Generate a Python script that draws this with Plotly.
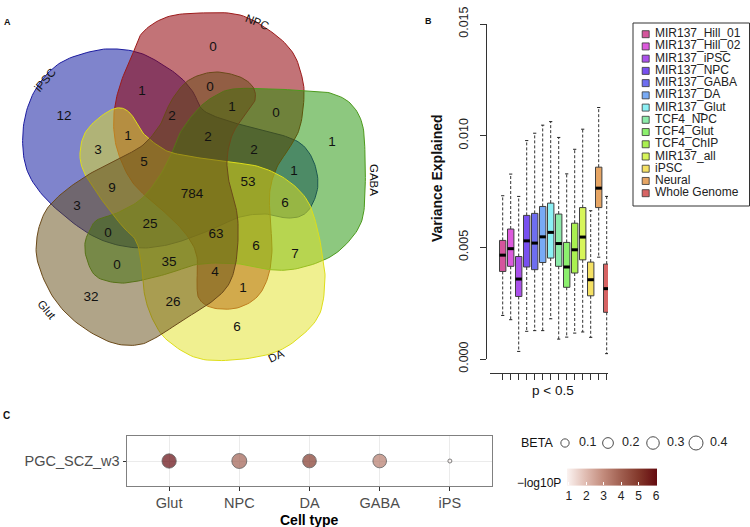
import numpy as np
import plotly.graph_objects as go

FONT = "Liberation Sans, Arial, Helvetica, sans-serif"

# ---------------- Panel A : 5-set Venn ----------------
venn_sets = ["iPSC", "NPC", "GABA", "DA", "Glut"]
venn_counts = [0, 0, 1, 12, 1, 0, 1, 2, 1, 3, 2, 2, 5, 1, 53, 9, 784, 6, 3, 25,
               63, 0, 6, 7, 0, 35, 4, 1, 32, 26, 6]

# layout geometry (pixel space of the page) -- not data
count_xy = [(213, 48), (210, 88), (142, 92), (64, 117), (232, 108), (276, 114), (332, 143),
            (172, 117), (128, 137), (98, 151), (208, 138), (254, 151), (144, 163), (294, 172),
            (248, 183), (112, 189), (192, 195), (285, 204), (77, 207), (150, 225), (216, 235),
            (108, 234), (256, 247), (295, 255), (117, 266), (169, 263), (215, 273), (243, 289),
            (91, 298), (173, 303), (237, 328)]
outline = {
    "iPSC": [(117, 49), (140, 53), (160, 63), (180, 77), (193, 92), (203, 110), (225, 120), (250, 127),
             (275, 133), (300, 143), (313, 160), (318, 183), (313, 203), (303, 215), (287, 218),
             (265, 214), (240, 217), (215, 228), (190, 238), (167, 245), (140, 248), (110, 243),
             (83, 230), (50, 203), (30, 177), (23, 150), (25, 117), (37, 87), (60, 63), (93, 51)],
    "NPC": [(133, 53), (143, 32), (167, 17), (200, 13), (240, 15), (273, 33), (293, 53), (302, 77),
            (304, 97), (300, 127), (290, 147), (277, 167), (270, 190), (270, 217), (272, 250),
            (268, 277), (257, 297), (237, 308), (213, 308), (200, 300), (197, 287), (197, 257),
            (188, 237), (170, 217), (150, 200), (133, 183), (122, 163), (115, 140), (114, 113),
            (120, 85)],
    "GABA": [(233, 89), (273, 89), (307, 91), (330, 93), (350, 103), (362, 123), (365, 153),
             (365, 193), (362, 220), (350, 240), (330, 257), (300, 268), (273, 270), (240, 264),
             (200, 264), (170, 273), (143, 280), (120, 283), (97, 277), (87, 260), (85, 243),
             (90, 230), (97, 220), (117, 213), (140, 200), (157, 180), (170, 157), (180, 133),
             (197, 110), (213, 97)],
    "DA": [(80, 153), (85, 133), (100, 117), (117, 108), (130, 113), (143, 133), (160, 147),
           (173, 153), (200, 158), (230, 162), (260, 167), (287, 180), (307, 200), (317, 227),
           (322, 253), (325, 277), (320, 313), (300, 337), (273, 353), (233, 360), (197, 358),
           (167, 340), (153, 320), (145, 297), (143, 277), (137, 243), (123, 227), (107, 207),
           (93, 187), (83, 170)],
    "Glut": [(37, 237), (38, 263), (53, 297), (77, 323), (110, 342), (137, 345), (157, 337),
             (183, 320), (210, 303), (227, 287), (235, 267), (238, 240), (237, 213), (230, 187),
             (227, 160), (233, 133), (247, 113), (255, 100), (253, 87), (240, 77), (217, 72),
             (197, 76), (183, 85), (170, 103), (160, 125), (143, 145), (120, 158), (100, 168),
             (80, 180), (60, 195), (45, 212)],
}
venn_fill = {"iPSC": "rgba(0,10,153,0.5)", "NPC": "rgba(143,0,8,0.55)", "GABA": "rgba(27,145,0,0.5)",
             "DA": "rgba(225,225,33,0.5)", "Glut": "rgba(97,73,17,0.5)"}
venn_line = {"iPSC": "#1c1ca0", "NPC": "#9c1a1a", "GABA": "#4c9a1c", "DA": "#dede1a", "Glut": "#6b4a1a"}
venn_label = {"iPSC": (45, 80, -50), "NPC": (257, 22, 22), "GABA": (374, 180, 90),
              "DA": (276, 356, -25), "Glut": (47, 310, 50)}

# ---------------- Panel B : boxplots ----------------
box_names = ["MIR137_Hill_01", "MIR137_Hill_02", "MIR137_iPSC", "MIR137_NPC", "MIR137_GABA",
             "MIR137_DA", "MIR137_Glut", "TCF4_NPC", "TCF4_Glut", "TCF4_ChIP", "MIR137_all",
             "iPSC", "Neural", "Whole Genome"]
whisker_low = [0.00195, 0.00176, 0.00034, 0.00124, 0.00127, 0.00127, 0.00180, 0.00089, 0.00098,
               0.00116, 0.00121, 0.00097, 0.00456, 0.00024]
q1 = [0.00392, 0.00415, 0.00280, 0.00412, 0.00400, 0.00432, 0.00452, 0.00415, 0.00321, 0.00385,
      0.00444, 0.00283, 0.00678, 0.00209]
median = [0.00465, 0.00494, 0.00358, 0.00529, 0.00519, 0.00547, 0.00567, 0.00517, 0.00412,
          0.00489, 0.00546, 0.00355, 0.00765, 0.00315]
q3 = [0.00531, 0.00582, 0.00459, 0.00643, 0.00652, 0.00683, 0.00698, 0.00649, 0.00522, 0.00608,
      0.00678, 0.00434, 0.00859, 0.00425]
whisker_high = [0.00731, 0.00828, 0.00728, 0.00978, 0.01011, 0.01047, 0.01063, 0.00992, 0.00829,
                0.00939, 0.01029, 0.00664, 0.01126, 0.00728]
box_colors = ["#d4559c", "#dc5adc", "#aa50eb", "#7850f0", "#6e6ef0", "#78aaf5", "#8cf0f5",
              "#8cebaa", "#8cf06e", "#aaf050", "#d7f55a", "#f5e164", "#e6a564", "#d76464"]
y_ticks = [0.0, 0.005, 0.010, 0.015]

# ---------------- Panel C : dot plot ----------------
cell_types = ["Glut", "NPC", "DA", "GABA", "iPS"]
trait = "PGC_SCZ_w3"
beta = [0.42, 0.476, 0.378, 0.375, 0.0325]
neglog10p = [6.05, 3.95, 5.0, 3.35, 0.9]
beta_breaks = [0.1, 0.2, 0.3, 0.4]
p_ticks = [1, 2, 3, 4, 5, 6]

W, H = 750, 527


def py(p):
    return 1 - p / H


def smooth_closed(pts, nseg=10):
    P = np.array(pts, float)
    n = len(P)
    out = []
    for i in range(n):
        p0, p1, p2, p3 = P[i - 1], P[i], P[(i + 1) % n], P[(i + 2) % n]
        for t in np.linspace(0, 1, nseg, endpoint=False):
            out.append(0.5 * (2 * p1 + (-p0 + p2) * t + (2 * p0 - 5 * p1 + 4 * p2 - p3) * t * t
                              + (-p0 + 3 * p1 - 3 * p2 + p3) * t ** 3))
    out.append(out[0])
    return np.array(out)


fig = go.Figure()

# Venn shapes (drawn on a page-pixel axis)
for s in venn_sets:
    c = smooth_closed(outline[s])
    fig.add_trace(go.Scatter(x=c[:, 0], y=c[:, 1], mode="lines", fill="toself",
                             fillcolor=venn_fill[s], line=dict(color=venn_line[s], width=1),
                             hoverinfo="skip", showlegend=False, xaxis="x", yaxis="y"))
fig.add_trace(go.Scatter(x=[p[0] for p in count_xy], y=[p[1] for p in count_xy],
                         text=[str(v) for v in venn_counts], mode="text",
                         textfont=dict(family=FONT, size=13.5, color="#111"),
                         showlegend=False, hoverinfo="skip", xaxis="x", yaxis="y"))

# Panel B
pos = np.arange(1, len(box_names) + 1)
wx, wy, sx, sy = [], [], [], []
for i, p in enumerate(pos):
    wx += [p, p, None, p, p, None]
    wy += [q3[i], whisker_high[i], None, q1[i], whisker_low[i], None]
    sx += [p - 0.2, p + 0.2, None, p - 0.2, p + 0.2, None]
    sy += [whisker_high[i], whisker_high[i], None, whisker_low[i], whisker_low[i], None]
fig.add_trace(go.Scatter(x=wx, y=wy, mode="lines", line=dict(color="#333", width=1, dash="3px,2px"),
                         showlegend=False, hoverinfo="skip", xaxis="x2", yaxis="y2"))
fig.add_trace(go.Scatter(x=sx, y=sy, mode="lines", line=dict(color="#222", width=1),
                         showlegend=False, hoverinfo="skip", xaxis="x2", yaxis="y2"))
fig.add_trace(go.Bar(x=pos, y=np.array(q3) - np.array(q1), base=q1, width=0.8,
                     marker=dict(color=box_colors, line=dict(color="#404040", width=1)),
                     showlegend=False, hoverinfo="skip", xaxis="x2", yaxis="y2"))
mx, my = [], []
for i, p in enumerate(pos):
    mx += [p - 0.4, p + 0.4, None]
    my += [median[i], median[i], None]
fig.add_trace(go.Scatter(x=mx, y=my, mode="lines", line=dict(color="black", width=3),
                         showlegend=False, hoverinfo="skip", xaxis="x2", yaxis="y2"))

# Panel B legend (manual, page-pixel axis)
leg_y = [34.2 + 12.23 * i for i in range(len(box_names))]
fig.add_trace(go.Scatter(x=[645.7] * len(box_names), y=leg_y, mode="markers",
                         marker=dict(symbol="square", size=7, color=box_colors,
                                     line=dict(color="#333", width=0.8)),
                         showlegend=False, hoverinfo="skip", xaxis="x", yaxis="y"))
fig.add_trace(go.Scatter(x=[655] * len(box_names), y=leg_y, mode="text", text=box_names,
                         textposition="middle right",
                         textfont=dict(family=FONT, size=12, color="#222"),
                         showlegend=False, hoverinfo="skip", xaxis="x", yaxis="y"))

# Panel C
bmin, bmax = min(beta), max(beta)


def diam(b):
    return 1.8 + 2.2 * (1 + 5 * np.sqrt(np.clip((np.array(b) - bmin) / (bmax - bmin), 0, 1)))


cscale = [[0.0, "#fbf3f1"], [0.2, "#e1beb4"], [0.4, "#c38c7d"], [0.6, "#a05f50"],
          [0.8, "#82372a"], [1.0, "#640a0f"]]
fig.add_trace(go.Scatter(
    x=cell_types, y=[trait] * len(cell_types), mode="markers",
    marker=dict(size=diam(beta), color=neglog10p, colorscale=cscale,
                cmin=min(neglog10p), cmax=max(neglog10p),
                line=dict(color="#222", width=0.8),
                colorbar=dict(orientation="h", x=612 / W, xanchor="center", y=py(507),
                              yanchor="bottom", len=90, lenmode="pixels", thickness=17,
                              tickvals=p_ticks, ticks="inside", ticklen=3, tickcolor="white",
                              outlinewidth=0, xpad=0, ypad=0,
                              tickfont=dict(family=FONT, size=12, color="#222"))),
    showlegend=False, hoverinfo="skip", xaxis="x3", yaxis="y3"))

# BETA legend
beta_key_x = [565, 608, 653, 696]
fig.add_trace(go.Scatter(x=beta_key_x, y=[443] * 4, mode="markers",
                         marker=dict(size=diam(beta_breaks), color="rgba(255,255,255,0)",
                                     line=dict(color="black", width=1)),
                         showlegend=False, hoverinfo="skip", xaxis="x", yaxis="y"))
fig.add_trace(go.Scatter(x=[k + 14 for k in beta_key_x], y=[443] * 4, mode="text",
                         text=[str(b) for b in beta_breaks], textposition="middle right",
                         textfont=dict(family=FONT, size=12.5, color="#222"),
                         showlegend=False, hoverinfo="skip", xaxis="x", yaxis="y"))

ann = []


def A(x, y, t, size, bold=False, angle=0, xanchor="center", color="#111"):
    ann.append(dict(x=x, y=y, xref="x", yref="y", text=f"<b>{t}</b>" if bold else t,
                    showarrow=False, textangle=angle, xanchor=xanchor, yanchor="middle",
                    font=dict(family=FONT, size=size, color=color)))


A(7, 22, "A", 9, True)
A(428, 21, "B", 9, True)
A(6, 415, "C", 10, True)
for s in venn_sets:
    lx, ly, ang = venn_label[s]
    A(lx, ly, s, 11.5, angle=ang)
A(437, 178, "Variance Explained", 14, True, angle=-90)
A(553, 390, "p &lt; 0.5", 13.5)
A(309, 520, "Cell type", 14, True, color="#000")
A(537, 443, "BETA", 12.5)
A(563, 483, "\u2212log10P", 12, xanchor="right")

shapes = [dict(type="rect", xref="x", yref="y", x0=633, x1=749.5, y0=23, y1=206,
               line=dict(color="#333", width=1), fillcolor="rgba(0,0,0,0)")]

fig.update_layout(
    width=W, height=H, margin=dict(l=0, r=0, t=0, b=0, autoexpand=False),
    paper_bgcolor="white", plot_bgcolor="white", showlegend=False,
    annotations=ann, shapes=shapes,
    xaxis=dict(domain=[0, 1], range=[0, W], visible=False, fixedrange=True),
    yaxis=dict(domain=[0, 1], range=[H, 0], visible=False, fixedrange=True),
    xaxis2=dict(domain=[490 / W, 608 / W], range=[-0.5875, 14.1625], anchor="free",
                position=py(373), tickvals=list(pos), ticktext=[""] * len(pos),
                ticks="outside", ticklen=6, tickcolor="#333", showline=True, linecolor="#333",
                showgrid=False, zeroline=False),
    yaxis2=dict(domain=[py(359), py(24)], range=[0, 0.015], anchor="free", position=485.7 / W,
                tickvals=y_ticks, ticktext=[f"{v:.3f}" for v in y_ticks], tickangle=-90,
                ticks="outside", ticklen=6, tickcolor="#333", showline=True, linecolor="#333",
                showgrid=False, zeroline=False, ticklabelstandoff=7,
                tickfont=dict(family=FONT, size=12.5, color="#222")),
    xaxis3=dict(domain=[127 / W, 492 / W], range=[-0.6, 4.6], anchor="y3",
                type="category", categoryorder="array", categoryarray=cell_types,
                showline=True, mirror=True, linecolor="#808080", linewidth=1,
                showgrid=True, gridcolor="#ebebeb", gridwidth=1, zeroline=False,
                ticks="outside", ticklen=3.5, tickcolor="#333",
                tickfont=dict(family=FONT, size=14.5, color="#4d4d4d")),
    yaxis3=dict(domain=[py(486), py(436)], range=[-0.6, 0.6], anchor="x3", type="category",
                showline=True, mirror=True, linecolor="#808080", linewidth=1,
                showgrid=True, gridcolor="#ebebeb", gridwidth=1, zeroline=False,
                ticks="outside", ticklen=3.5, tickcolor="#333",
                tickfont=dict(family=FONT, size=14.5, color="#4d4d4d")),
)

fig.write_html("out.html", config={"displayModeBar": False},
               post_script="document.body.style.margin='0';document.body.style.overflow='hidden';")
